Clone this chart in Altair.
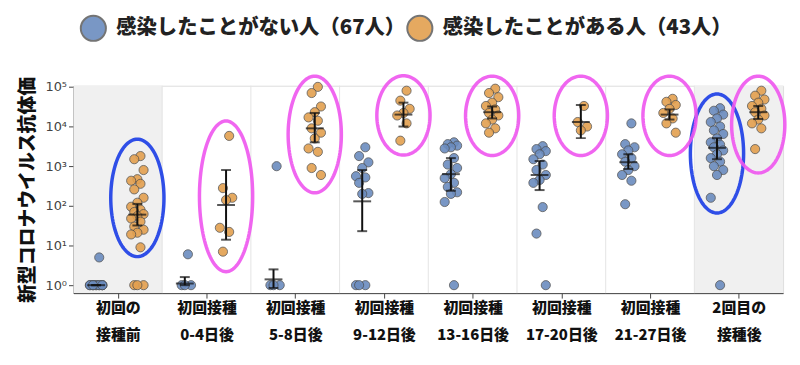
import json
import numpy as np
import pandas as pd
import altair as alt

# ---------------- data ----------------
label_lines = [["初回の", "接種前"], ["初回接種", "0-4日後"], ["初回接種", "5-8日後"],
               ["初回接種", "9-12日後"], ["初回接種", "13-16日後"], ["初回接種", "17-20日後"],
               ["初回接種", "21-27日後"], ["2回目の", "接種後"]]
series_names = ["感染したことがない人（67人）", "感染したことがある人（43人）"]

blue_vals = [
    [1, 1, 1, 1, 1, 1, 1, 1, 1, 1, 1, 1, 5],
    [1, 1, 1, 6],
    [1000, 1, 1, 1],
    [3000, 1800, 1250, 900, 560, 520, 380, 210, 200, 1, 1, 1],
    [4000, 3600, 3300, 3000, 2800, 1600, 1100, 900, 630, 500, 380, 300, 220, 200, 125, 1],
    [3200, 2700, 2400, 2000, 1500, 1100, 800, 600, 450, 380, 93, 20, 1],
    [12000, 3600, 3000, 2500, 2000, 1600, 1300, 1000, 800, 600, 430, 110],
    [29000, 25000, 20000, 16000, 13000, 10000, 8000, 6500, 5000, 4000, 3500, 3000,
     2500, 2000, 1600, 1300, 1000, 800, 600, 160, 1],
]
orange_vals = [
    [1800, 1500, 800, 470, 430, 360, 260, 160, 120, 95, 80, 70, 62, 55, 48, 40, 30,
     25, 21, 19, 9, 1, 1, 1],
    [5800, 280, 160, 140, 28, 22, 7],
    [100000, 70000, 32000, 23000, 17000, 14000, 9000, 7000, 5000, 2800, 2300, 900, 600],
    [80000, 45000, 28000, 22000, 19000, 12000, 4400],
    [90000, 70000, 55000, 40000, 33000, 27000, 22000, 19000, 15000, 12000, 9000, 7000],
    [33000, 13000, 10000, 8000],
    [50000, 42000, 35000, 28000, 22000, 16000, 12000, 7000],
    [80000, 60000, 48000, 40000, 33000, 28000, 23000, 19000, 15000, 12000, 9000, 2700],
]
blue_mid = [1, 1.1, 1.4, 130, 630, 600, 1260, 2900]
blue_lo = [1, 1, 0.85, 23, 240, 250, 850, 1500]
blue_hi = [1, 1.6, 2.5, 800, 1600, 1350, 2000, 5100]
orange_mid = [60, 105, 9000, 20000, 23000, 13000, 20000, 23000]
orange_lo = [32, 14, 4000, 10000, 16000, 5100, 15000, 15500]
orange_hi = [112, 800, 22000, 40000, 32000, 35000, 27000, 33000]

# annotation ellipses: (group, series, centre log10, half height in decades)
ell_blue = [(0, 1, 2.2, 1.48), (7, 0, 3.32, 1.5)]
ell_magenta = [(1, 1, 2.24, 1.9), (2, 1, 3.8, 1.47), (3, 1, 4.28, 1.0), (4, 1, 4.27, 1.0),
               (5, 1, 4.27, 1.0), (6, 1, 4.27, 1.0), (7, 1, 4.05, 1.22)]
shade_groups = [0, 7]

# ---------------- tables ----------------
rows = []
for s, vals in enumerate([blue_vals, orange_vals]):
    for gi, vs in enumerate(vals):
        for v in vs:
            rows.append({"gi": gi, "s": s, "series": series_names[s], "value": v})
pts = pd.DataFrame(rows)

err_rows = []
for s, (m, lo, hi) in enumerate([(blue_mid, blue_lo, blue_hi), (orange_mid, orange_lo, orange_hi)]):
    for gi in range(len(label_lines)):
        err_rows.append({"gi": gi, "s": s, "mid": m[gi], "lo": lo[gi], "hi": hi[gi]})
err = pd.DataFrame(err_rows)

tt = np.linspace(0, 2 * np.pi, 121)
def ell_df(lst):
    r = []
    for k, (gi, s, c, h) in enumerate(lst):
        for t in tt:
            r.append({"id": k, "gi": gi, "s": s, "c": c, "h": h, "t": float(t)})
    return pd.DataFrame(r)

shade = pd.DataFrame({"gi": shade_groups})
bounds = pd.DataFrame({"gi": list(range(len(label_lines) - 1))})

W, H = 715, 209
BLUE, ORANGE = "#6b8cbf", "#e3a04f"
OFF = "(datum.s == 0 ? -0.245 : 0.22)"
label_expr = json.dumps(label_lines, ensure_ascii=False) + "[datum.value]"

xscale = alt.Scale(domain=[-0.5, len(label_lines) - 0.5], nice=False, zero=False)
yscale = alt.Scale(type="log", domain=[0.63, 107000], nice=False)

xaxis = alt.Axis(values=list(range(len(label_lines))), labelExpr=label_expr, title=None,
                 grid=False, labelFontSize=15, labelFontWeight=900, labelColor="#111",
                 labelLineHeight=27, labelPadding=3, tickSize=5, domainColor="#444",
                 tickColor="#444", labelFont="Noto Sans CJK JP")
yaxis = alt.Axis(values=[1, 10, 100, 1000, 10000, 100000], grid=False,
                 labelExpr="'10' + ['⁰','¹','²','³','⁴','⁵'][round(log(datum.value)/LN10)]",
                 title="新型コロナウイルス抗体価", titleFontSize=19, titleFontWeight=900,
                 titleColor="#111", titleFont="Noto Sans CJK JP", titlePadding=8,
                 labelFont="DejaVu Sans", labelFontSize=13, labelColor="#444",
                 tickSize=5, domainColor="#444", tickColor="#444")

bg = alt.Chart(shade).mark_rect(color="#f0f0f0").transform_calculate(
    x1="datum.gi - 0.5", x2="datum.gi + 0.5"
).encode(x=alt.X("x1:Q", scale=xscale, axis=xaxis), x2="x2:Q",
         y=alt.value(0), y2=alt.value(H))

grid = alt.Chart(bounds).mark_rule(color="#e4e4e4", strokeWidth=1).transform_calculate(
    xb="datum.gi + 0.5"
).encode(x=alt.X("xb:Q", scale=xscale), y=alt.value(0), y2=alt.value(H))

points = alt.Chart(pts).transform_window(
    rn="row_number()", groupby=["gi", "s"], sort=[alt.SortField("value", order="descending")]
).transform_calculate(
    xpos=f"datum.gi + {OFF} + ((datum.rn * 3) % 5 - 2) * 0.035"
).mark_point(filled=True, size=85, stroke="#4a4a4a", strokeWidth=0.8, opacity=0.9).encode(
    x=alt.X("xpos:Q", scale=xscale, axis=xaxis),
    y=alt.Y("value:Q", scale=yscale, axis=yaxis),
    color=alt.Color("series:N", scale=alt.Scale(domain=series_names, range=[BLUE, ORANGE]),
                    legend=alt.Legend(title=None, orient="none", direction="horizontal",
                                      legendX=6, legendY=-72, symbolSize=640,
                                      symbolStrokeColor="#666", symbolStrokeWidth=2,
                                      symbolType="circle", labelFontSize=20.5,
                                      labelFontWeight=900, labelColor="#222",
                                      labelFont="Noto Sans CJK JP", columnPadding=-26,
                                      labelOffset=9, labelLimit=400)),
)

errbase = alt.Chart(err).transform_calculate(xpos=f"datum.gi + {OFF}")
err_v = errbase.mark_rule(color="#111", strokeWidth=2).encode(
    x=alt.X("xpos:Q", scale=xscale), y=alt.Y("lo:Q", scale=yscale), y2="hi:Q")
err_lo = errbase.mark_tick(orient="horizontal", color="#111", size=10, thickness=2).encode(
    x=alt.X("xpos:Q", scale=xscale), y=alt.Y("lo:Q", scale=yscale))
err_hi = errbase.mark_tick(orient="horizontal", color="#111", size=10, thickness=2).encode(
    x=alt.X("xpos:Q", scale=xscale), y=alt.Y("hi:Q", scale=yscale))
err_mid = errbase.mark_tick(orient="horizontal", color="#111", size=18, thickness=2).encode(
    x=alt.X("xpos:Q", scale=xscale), y=alt.Y("mid:Q", scale=yscale))

def ell_layer(lst, color):
    return alt.Chart(ell_df(lst)).transform_calculate(
        ex=f"datum.gi + {OFF} + 0.30 * cos(datum.t)",
        ey="pow(10, datum.c + datum.h * sin(datum.t))"
    ).mark_line(color=color, strokeWidth=3.5, opacity=0.9, clip=False).encode(
        x=alt.X("ex:Q", scale=xscale), y=alt.Y("ey:Q", scale=yscale),
        detail="id:N", order="t:Q")

chart = alt.layer(bg, grid, points, err_v, err_lo, err_hi, err_mid,
                  ell_layer(ell_blue, "#1a3ce6"), ell_layer(ell_magenta, "#ee55ee")
).properties(width=W, height=H, padding={"left": 10, "top": 5, "right": 0, "bottom": 5}
).configure_view(stroke=None).configure(font="Noto Sans CJK JP")

chart.save("out.html", embed_options={"renderer": "svg", "actions": False})
